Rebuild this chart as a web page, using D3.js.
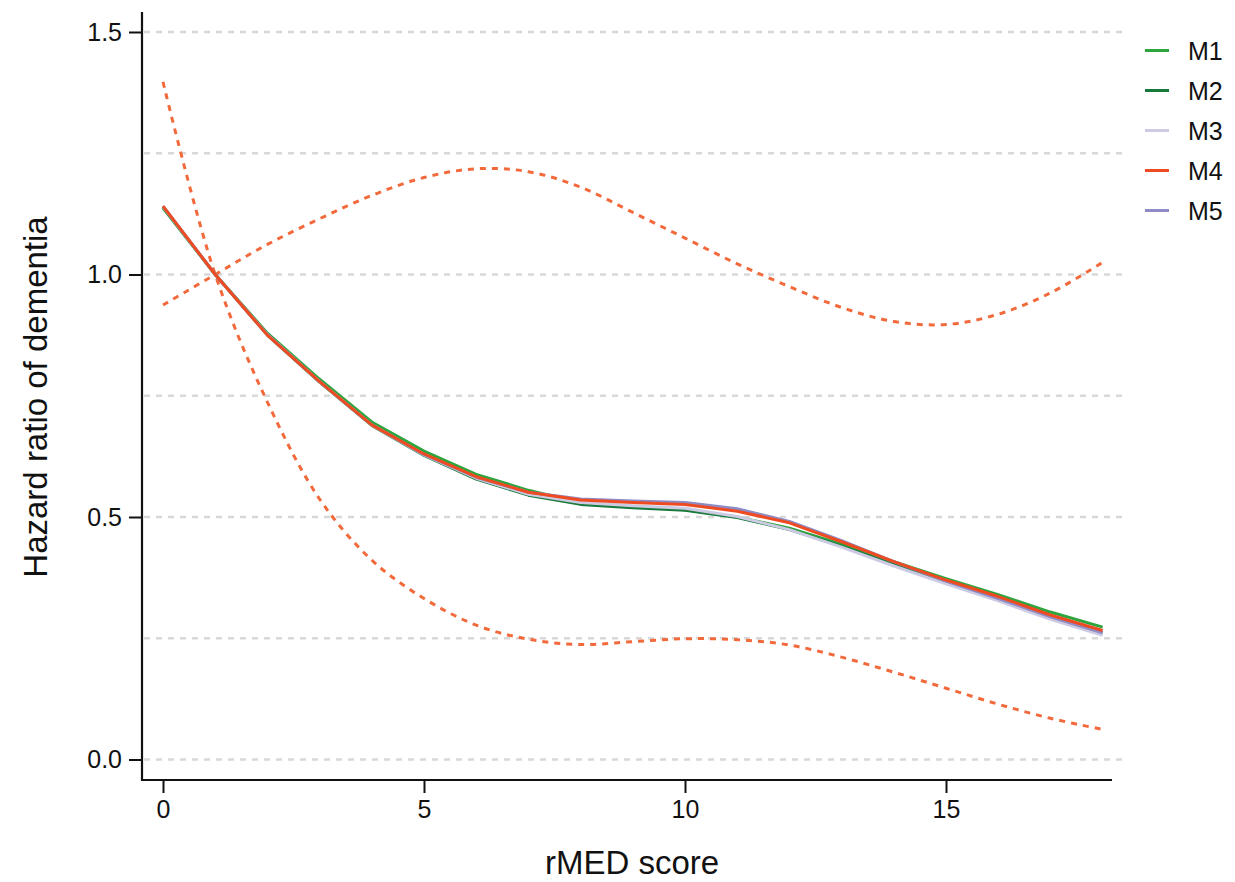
<!DOCTYPE html>
<html>
<head>
<meta charset="utf-8">
<script src="https://cdn.jsdelivr.net/npm/d3@7"></script>
<style>
  html, body { margin: 0; padding: 0; background: #fff; }
  svg { display: block; font-family: "Liberation Sans", Arial, Helvetica, sans-serif; }
</style>
</head>
<body>
<svg id="chart" width="1235" height="882"></svg>
<script>
// rMED score (x) and hazard ratios for each model
const scores = [0,1,2,3,4,5,6,7,8,9,10,11,12,13,14,15,16,17,18];
const M1 = [1.137,1.000,0.879,0.784,0.696,0.636,0.588,0.555,0.529,0.521,0.515,0.500,0.477,0.444,0.408,0.373,0.340,0.304,0.273];
const M2 = [1.139,1.000,0.875,0.778,0.689,0.627,0.578,0.545,0.526,0.519,0.514,0.499,0.474,0.440,0.402,0.366,0.331,0.294,0.262];
const M3 = [1.140,1.000,0.876,0.779,0.690,0.628,0.580,0.547,0.530,0.523,0.518,0.501,0.474,0.438,0.399,0.362,0.327,0.289,0.256];
const M4 = [1.141,1.000,0.875,0.779,0.690,0.630,0.583,0.551,0.535,0.530,0.526,0.512,0.488,0.449,0.408,0.370,0.336,0.298,0.266];
const M5 = [1.141,1.000,0.876,0.779,0.690,0.629,0.582,0.551,0.537,0.533,0.530,0.517,0.491,0.451,0.408,0.368,0.332,0.294,0.261];
// 95% confidence band of M4
const M4upper = [0.937,1.000,1.062,1.115,1.163,1.200,1.218,1.212,1.180,1.128,1.075,1.022,0.975,0.932,0.903,0.897,0.918,0.962,1.025];
const M4lower = [1.397,1.000,0.737,0.537,0.411,0.332,0.277,0.248,0.237,0.243,0.249,0.247,0.236,0.211,0.180,0.147,0.114,0.085,0.062];

const seriesNames = ["M1","M2","M3","M4","M5"];
const seriesValues = [M1, M2, M3, M4, M5];
const seriesColors = ["#2ca53c", "#177a3a", "#cdcbe3", "#ee4b22", "#8f8bc6"];
const xTicks = [0, 5, 10, 15];
const yTicks = [0, 0.5, 1.0, 1.5];
const gridValues = [0, 0.25, 0.5, 0.75, 1.0, 1.25, 1.5];

const svg = d3.select("#chart");

const x = d3.scaleLinear().domain([0, 18]).range([163, 1102.6]);
const y = d3.scaleLinear().domain([0, 1.5]).range([759.5, 32]);

const axisLeftX = 142, axisBottomY = 780;
const tickFont = 25, titleFont = 33;

// dashed horizontal gridlines
svg.append("g").selectAll("line").data(gridValues).join("line")
  .attr("x1", axisLeftX + 2).attr("x2", 1126)
  .attr("y1", d => y(d)).attr("y2", d => y(d))
  .attr("stroke", "#d8d8d8").attr("stroke-width", 2.5)
  .attr("stroke-dasharray", "6,6");

// axes
const yAxis = d3.axisLeft(y).tickValues(yTicks).tickFormat(d3.format(".1f"))
  .tickSize(13).tickPadding(7);
const gy = svg.append("g").attr("transform", `translate(${axisLeftX},0)`).call(yAxis);
gy.attr("font-size", tickFont).attr("font-family", "'Liberation Sans', Arial, sans-serif");
gy.select(".domain").remove();
gy.selectAll(".tick line").attr("stroke", "#111").attr("stroke-width", 2);
gy.selectAll(".tick text").attr("fill", "#111");

const xAxis = d3.axisBottom(x).tickValues(xTicks).tickFormat(d3.format("d"))
  .tickSize(13).tickPadding(7);
const gx = svg.append("g").attr("transform", `translate(0,${axisBottomY})`).call(xAxis);
gx.attr("font-size", tickFont).attr("font-family", "'Liberation Sans', Arial, sans-serif");
gx.select(".domain").remove();
gx.selectAll(".tick line").attr("stroke", "#111").attr("stroke-width", 2);
gx.selectAll(".tick text").attr("fill", "#111");

svg.append("line").attr("x1", axisLeftX).attr("x2", axisLeftX)
  .attr("y1", 12).attr("y2", axisBottomY + 1)
  .attr("stroke", "#111").attr("stroke-width", 2.2);
svg.append("line").attr("x1", axisLeftX - 1).attr("x2", 1112)
  .attr("y1", axisBottomY).attr("y2", axisBottomY)
  .attr("stroke", "#111").attr("stroke-width", 2.2);

// confidence band (dotted)
const smooth = d3.line().x((d, i) => x(scores[i])).y(d => y(d)).curve(d3.curveCatmullRom.alpha(0.5));
[M4upper, M4lower].forEach(vals => {
  svg.append("path").datum(vals)
    .attr("d", smooth)
    .attr("fill", "none")
    .attr("stroke", "#f26a3c")
    .attr("stroke-width", 3)
    .attr("stroke-dasharray", "6,6");
});

// model curves
const line = d3.line().x((d, i) => x(scores[i])).y(d => y(d));
const drawOrder = [0, 1, 2, 4, 3];
drawOrder.forEach(k => {
  svg.append("path").datum(seriesValues[k])
    .attr("d", line)
    .attr("fill", "none")
    .attr("stroke", seriesColors[k])
    .attr("stroke-width", 3)
    .attr("stroke-linejoin", "round");
});

// legend
const legend = svg.append("g");
seriesNames.forEach((name, i) => {
  const ly = 50.5 + i * 40;
  legend.append("line").attr("x1", 1145).attr("x2", 1169)
    .attr("y1", ly).attr("y2", ly)
    .attr("stroke", seriesColors[i]).attr("stroke-width", 3);
  legend.append("text").attr("x", 1188).attr("y", ly + 9)
    .attr("font-size", tickFont).attr("fill", "#111").text(name);
});

// axis titles
svg.append("text").attr("x", 632).attr("y", 874)
  .attr("text-anchor", "middle").attr("font-size", titleFont).attr("fill", "#111")
  .text("rMED score");
svg.append("text")
  .attr("transform", "translate(47,397) rotate(-90)")
  .attr("text-anchor", "middle").attr("font-size", titleFont).attr("fill", "#111")
  .text("Hazard ratio of dementia");
</script>
</body>
</html>
